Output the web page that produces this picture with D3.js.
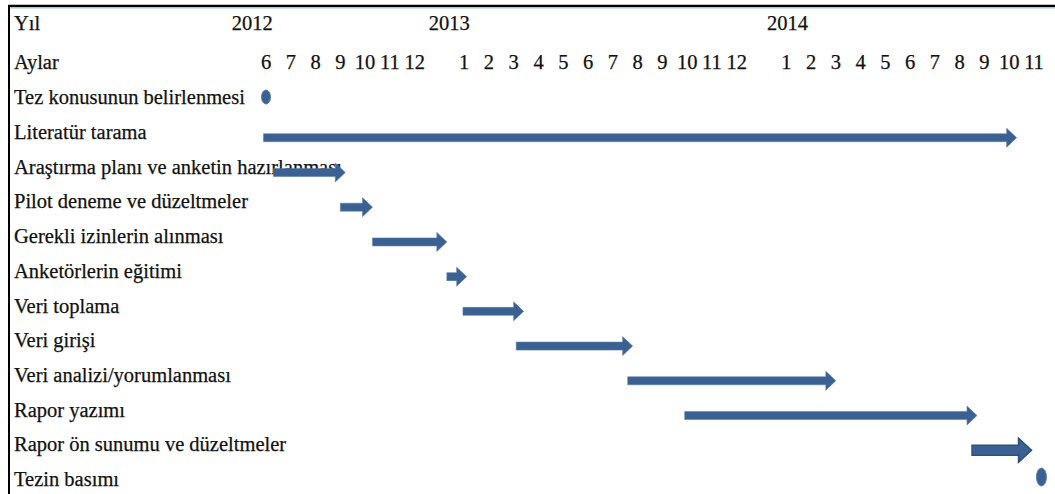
<!DOCTYPE html>
<html lang="tr">
<head>
<meta charset="UTF-8">
<title>Çalışma takvimi</title>
<style>
    body { margin: 0; padding: 0; background: #fff; }
</style>
</head>
<body>
<script src="https://cdn.jsdelivr.net/npm/d3@7"></script>
<script>
    // yıllar ve aylar (yıl arasında bir boş sütun var)
    const years = ["2012", "2013", "2014"];
    const months2012 = [6, 7, 8, 9, 10, 11, 12];
    const months2013 = [1, 2, 3, 4, 5, 6, 7, 8, 9, 10, 11, 12];
    const months2014 = [1, 2, 3, 4, 5, 6, 7, 8, 9, 10, 11];

    const tasks = [
        "Tez konusunun belirlenmesi",
        "Literatür tarama",
        "Araştırma planı ve anketin hazırlanması",
        "Pilot deneme ve düzeltmeler",
        "Gerekli izinlerin alınması",
        "Anketörlerin eğitimi",
        "Veri toplama",
        "Veri girişi",
        "Veri analizi/yorumlanması",
        "Rapor yazımı",
        "Rapor ön sunumu ve düzeltmeler",
        "Tezin basımı"
    ];
    // başlangıç / bitiş: ay sütunu cinsinden (0 = 2012/6, 8 = 2013/1, 21 = 2014/1)
    const taskStart = [0, -0.1, 0.3, 3.0, 4.3, 7.3, 7.95, 10.1, 14.6, 16.9, 28.5, 31.3];
    const taskEnd   = [0, 30.3, 3.2, 4.3, 7.3, 8.1, 10.4, 14.8, 23.0, 28.7, 30.9, 31.3];
    // yıl etiketlerinin durduğu sütun
    const yearSlot = [-0.55, 7.4, 21.05];

    const width = 1055, height = 494;
    const font = '"Liberation Serif", "DejaVu Serif", "Times New Roman", serif';
    const svg = d3.select("body").append("svg")
        .attr("width", width)
        .attr("height", height)
        .attr("font-family", font)
        .style("font-family", font);

    // ay sütunlarını oluştur
    const slots = [...months2012, "", ...months2013, "", ...months2014];
    const x = d3.scaleLinear().domain([0, slots.length - 1]).range([266, 1034]);
    const y = d3.scalePoint().domain(tasks).range([97, 479]);

    // çerçeve
    svg.append("line").attr("x1", 8).attr("x2", width).attr("y1", 6).attr("y2", 6)
        .attr("stroke", "#000").attr("stroke-width", 2.5);
    svg.append("line").attr("x1", 8).attr("x2", width).attr("y1", 8.5).attr("y2", 8.5)
        .attr("stroke", "#cfe0ef").attr("stroke-width", 1.2);
    svg.append("line").attr("x1", 9).attr("x2", 9).attr("y1", 5).attr("y2", height)
        .attr("stroke", "#000").attr("stroke-width", 2);

    const fs = 20.5;
    const txt = sel => sel
        .attr("font-size", fs)
        .attr("fill", "#111")
        .attr("stroke", "#111")
        .attr("stroke-width", 0.25)
        .attr("dy", "0.35em");

    // başlık satırları
    svg.append("text").attr("x", 14).attr("y", 23).call(txt).text("Yıl");
    svg.append("text").attr("x", 14).attr("y", 62).call(txt).text("Aylar");

    svg.append("g").selectAll("text")
        .data(years)
        .join("text")
        .attr("x", (d, i) => x(yearSlot[i]))
        .attr("y", 23)
        .attr("text-anchor", "middle")
        .call(txt)
        .text(d => d);

    svg.append("g").selectAll("text")
        .data(slots.map((m, i) => ({ m, i })).filter(d => d.m !== ""))
        .join("text")
        .attr("x", d => x(d.i))
        .attr("y", 62)
        .attr("text-anchor", "middle")
        .call(txt)
        .text(d => d.m);

    // iş adları
    svg.append("g").selectAll("text")
        .data(tasks)
        .join("text")
        .attr("x", 14)
        .attr("y", d => y(d))
        .call(txt)
        .text(d => d);

    // oklar ve noktalar
    const color = "#3b6192";
    const arrow = (x0, x1, yc, shaft, head, headLen) => {
        const s = shaft / 2, h = head / 2;
        return `M${x0},${yc - s}L${x1 - headLen},${yc - s}L${x1 - headLen},${yc - h}` +
            `L${x1},${yc}L${x1 - headLen},${yc + h}L${x1 - headLen},${yc + s}L${x0},${yc + s}Z`;
    };

    const marks = tasks.map((t, i) => ({ t, s: taskStart[i], e: taskEnd[i] }));
    const isBig = d => d.e - d.s < 3 && d.s > 25;

    svg.append("g").selectAll("path")
        .data(marks.filter(d => d.e > d.s))
        .join("path")
        .attr("d", d => isBig(d)
            ? arrow(x(d.s), x(d.e), y(d.t) + 6, 10, 24, 13)
            : arrow(x(d.s), x(d.e), y(d.t) + 6, 8, 19, 10))
        .attr("fill", color)
        .attr("stroke", d => isBig(d) ? "#2d4f7c" : "#5d7fab")
        .attr("stroke-width", d => isBig(d) ? 1.5 : 0.6);

    svg.append("g").selectAll("ellipse")
        .data(marks.filter(d => d.e === d.s))
        .join("ellipse")
        .attr("cx", d => x(d.s))
        .attr("cy", (d, i) => y(d.t) + (i === 0 ? 0 : -2))
        .attr("rx", (d, i) => i === 0 ? 4.5 : 5)
        .attr("ry", (d, i) => i === 0 ? 7 : 9)
        .attr("fill", color)
        .attr("stroke", "#5d7fab")
        .attr("stroke-width", 1);
</script>
</body>
</html>
